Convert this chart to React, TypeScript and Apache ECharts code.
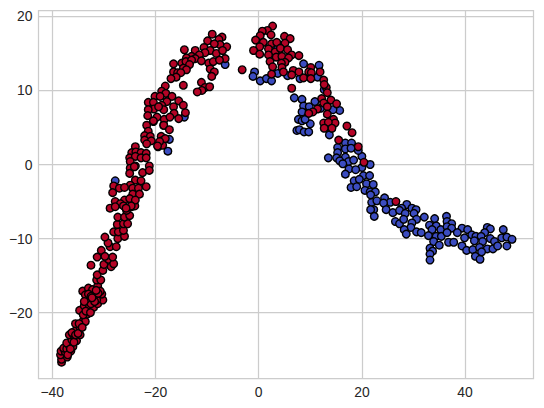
import React, { useEffect, useRef } from "react";
import * as echarts from "echarts";

const xTicks = [-40, -20, 0, 20, 40];
const yTicks = [-20, -10, 0, 10, 20];

const bluePoints: number[][] = [
  [-27.8,-2.2],[-14.4,6.4],[-6.5,13.5],[-17.3,3.4],[-17.6,1.8],
  [-0.8,12.5],[-1.1,11.9],[0.3,11.3],[1.5,11.6],[2.5,11.3],[3.7,12.3],[5.6,12],[8,11.6],[8.7,13.6],[11.7,13.4],[11.4,11.8],[6.9,9],[8.4,8.8],[12.7,10.1],[3.7,15.7],
  [8.7,7.9],[9.8,7.8],[10.9,8.5],[8.4,7.1],[15.7,7.3],[14.4,7.4],[12,7.6],[7.7,6.1],[8.4,5.9],[10,5.5],[9,6.1],[7.4,4.6],[7.9,4.7],[8.8,4.4],[9.7,4.4],[13.7,4],
  [16.8,2.9],[18,2.9],[15.3,2.3],[16.8,2.1],[15.3,1.6],[17.9,2.2],[13.5,0.9],[15.1,0.9],[16.8,1],[15.7,0.5],[17.4,0.4],[18.4,0.6],[16.3,0.1],[20,1.1],[19.3,1.9],[21.6,0],[20,-0.4],[17.5,-0.6],[18.8,-0.7],[16.8,-1.3],[20.3,-1.5],[21.5,-1.5],[18.5,-2.2],[19.5,-2],[17.9,-3.1],[19,-3],[20.9,-2.6],[22.2,-2.7],[20.6,-3.5],[21.6,-3.7],[22.6,-3.7],[21.9,-5.1],[22.9,-4.9],
  [21.7,-4.1],[24.4,-4.5],[25.5,-5.1],[24.2,-5.2],[28.7,-5.4],[27.7,-5.9],[29.7,-5.9],[30.5,-6.1],[22.3,-6.1],[21.7,-6.1],[24.7,-6.1],[26,-6.5],[27.3,-6.2],[28.4,-6.6],[30.1,-6.6],[22.4,-7],[32.1,-7.1],[30.6,-7.4],[34.1,-7.3],[36.4,-7],[26.5,-7.7],[27.3,-8],[28.1,-7.4],[29.7,-7.9],[36.5,-7.7],[33.1,-8.2],[34.4,-8.3],[37.4,-8],[29.5,-8.5],[28.2,-8.8],[30.6,-9.1],[31.5,-9.2],[28.6,-9.4],[33.6,-8.8],[35.3,-8.8],[36.5,-8.4],[37.4,-8.6],[39.4,-8.6],[40.5,-8.8],[44.3,-8.5],[44.9,-8.7],[47.4,-8.8],[43.8,-9.2],[32.9,-9.6],[34.4,-9.7],[35.4,-9.7],[36.5,-9.2],[38.5,-9.2],[39.9,-9.9],[41.3,-9.5],[42.1,-9.7],[43.1,-9.7],[44.9,-10],[47.1,-9.9],[48.1,-9.8],[49.1,-10.1],[33.9,-10.4],[35,-10.9],[36.8,-10.5],[37.8,-10.5],[41.8,-10.3],[43.4,-10.4],[45.7,-10.4],[39.4,-11],[40.3,-11.6],[41.5,-11.5],[42.8,-11.2],[44.3,-11.4],[45.4,-11.4],[46.3,-11],[48.1,-11],[33.2,-11.3],[33.7,-11.7],[33.2,-12.1],[33.2,-12.9],[42,-12.4],[42.9,-12.8],[43.2,-11.8],
];

const redPoints: number[][] = [
  [-38.2,-26.7],[-38.2,-26.3],[-38.4,-25.7],[-38.3,-25.2],[-37.1,-26],[-37.5,-25.3],[-37.8,-24.8],[-37.2,-24.9],[-36.4,-25.2],[-36,-24.6],[-36.7,-24.4],[-37.2,-24.1],[-36.2,-23.7],[-36.7,-23],[-35.9,-23],[-35.3,-23.8],[-34.6,-23],[-35.6,-22.5],[-36.2,-22.7],[-34.6,-22],[-35.5,-21.5],[-34.1,-21.2],[-33.6,-21.2],[-33.2,-20.2],[-34.7,-19.7],[-33.8,-19.1],[-34,-20.3],[-32.8,-19.1],[-32,-19.3],[-31.2,-18.8],[-30.2,-18.3],[-30.4,-17.5],[-31.4,-18.3],[-32.5,-18.8],[-34.1,-17.1],[-33.3,-18.1],[-33.6,-17.6],[-33,-16.7],[-32.2,-16.9],[-31.2,-16.4],[-30.7,-17.1],[-31.7,-17.6],[-31.1,-17.4],[-31.4,-15.6],[-30.6,-15.6],[-31.3,-14.9],[-30.2,-14.3],[-28.6,-13.8],[-30,-13.5],[-32.5,-13.6],[-29.1,-12.8],[-31.3,-12.5],[-30.5,-11.6],[-28.1,-13.4],[-28.3,-12.5],[-29.8,-12.4],[-28.8,-11.1],[-27.6,-11.1],[-29.2,-10.6],[-29.8,-9.8],[-27.3,-10],[-28.1,-9.1],[-27.2,-9.1],[-26,-9.7],[-26.2,-8.9],[-27.4,-8.1],[-26.2,-8],[-25.4,-8],[-27.3,-7.1],[-26,-7.1],[-25,-6.9],[-25.6,-6.2],[-24.6,-5.7],[-24,-5.6],
  [-37,-25.7],[-36.5,-24.9],[-35.8,-24],[-35.5,-23],[-35,-22.8],[-34.8,-21.5],[-34.2,-22],[-33.5,-19.8],[-32.6,-20],[-33,-17.5],[-32.5,-17.8],[-31.8,-18.5],[-31.5,-17],[-32.3,-18],[-33.8,-18.5],
  [-21.7,5.3],[-20.4,5.8],[-18.4,5.3],[-21.4,4.5],[-22.1,3.9],[-21,3.8],[-18.9,3.8],[-22.1,3.3],[-20.8,3.2],[-18.8,3.2],[-21.7,2.8],[-19.5,2.4],[-18.6,2.6],[-23.9,2.4],[-24.6,1.6],[-23.8,1.7],[-22.8,1.6],[-21.8,1.5],[-25,0.9],[-23.9,1.1],[-22.8,0.9],[-21.8,0.9],[-24.9,0.4],[-23.9,-0.2],[-24.9,-0.5],[-24.1,-0.3],[-25,-1.2],[-22.5,-1.1],[-21.2,-0.2],[-21.2,-0.8],[-23.9,-2.1],[-22.8,-2.2],[-28.1,-2.9],[-24.9,-2.8],[-27,-3.2],[-26,-3.1],[-24.4,-3.2],[-23.3,-3.2],[-21.8,-3],[-28.3,-3.8],[-24.4,-4],[-23.1,-4],[-26,-4.8],[-25,-4.6],[-27.8,-5],[-23.9,-4.8],[-26.8,-5.3],[-28.8,-5.9],[-27.8,-5.7],[-26.2,-5.6],[-24.7,-5.6],[-25.7,-5.9],
  [-9,17.6],[-7.1,17.2],[-9.9,16.7],[-7.7,16.9],[-6.2,15.9],[-7.5,16.2],[-8.6,16.3],[-10.6,15.8],[-9.4,15.4],[-8.2,15],[-7,15.4],[-10.4,15.1],[-6.5,14.3],[-9.7,13.7],[-8.8,13.9],[-7.6,14.1],[-9.4,12.9],[-8.6,12.5],[-9.1,11.9],[-14.4,15.5],[-12.3,15.4],[-13,14.6],[-14,14.4],[-11.5,14.8],[-12.3,14.3],[-11.1,14],[-16.5,13.6],[-14.9,13.7],[-14.1,13.9],[-13,14.1],[-13.4,13.5],[-14.6,13],[-16.5,12.5],[-14,12.8],[-15.7,12.4],[-15.1,12.4],[-16,11.8],[-17,11.6],[-14.6,10.7],[-11.1,11.1],[-10.4,10.4],[-9.5,10.5],[-11,10],[-11.9,9.8],[-18.1,10.6],[-18.8,9.9],[-18,9.6],[-20.1,9.2],[-19.1,9.2],[-21.4,8.4],[-20.4,8.4],[-16.8,9.2],[-15.5,8.6],[-17.8,8.5],[-18.8,8],[-20.3,7.5],[-21.4,7.4],[-14.6,8],[-16.5,7.8],[-18.4,7.4],[-19.4,7.8],[-14.2,7],[-16.4,6.9],[-21.5,6.6],[-19.7,6.4],[-18.3,6.1],[-17.2,6.4],[-15.5,6.2],[-20.4,5.9],[-18.4,5.3],[-17.3,4.7],[-18.1,3.5],[-19.2,3.1],[-19.6,2.5],[-3.2,12.8],
  [2.7,18.7],[1.7,18.1],[0.7,18],[2.4,17.5],[0.3,17.4],[-0.6,16.8],[0.9,16.5],[2.5,16.3],[3.5,16.5],[5,17.3],[6.1,17],[5.1,16.4],[0.2,15.9],[-1,15.4],[0.2,14.9],[1.9,15.6],[3.2,15.2],[4.2,15.7],[5.6,15.5],[6.4,14.8],[1.9,14.8],[3.4,14.5],[4.5,14.6],[5.8,14.4],[2.2,13.9],[5.1,13.8],[4.4,13.7],[7.8,14.7],[2.7,13.2],[4.5,13.1],[4.8,12.5],[10.1,13.1],[6.7,12.7],[7.8,12.5],[9.7,12.5],[10.2,12.4],[11.9,12.5],[2.5,12.2],[6.4,12.1],[8.7,11.7],[10.1,11.6],[12.6,11.4],[6.4,10.3],[13.1,10.4],[13.3,9.7],[12.7,10.8],
  [12.2,8.9],[14,8.7],[12.6,8.3],[13.3,7.8],[15.1,8.2],[11.4,7.5],[10.5,7.1],[9.7,6.9],[13.3,6.8],[14.5,6.1],[14.8,5.6],[12.6,5.6],[13.5,5.7],[14.2,4.9],[12.7,4.9],[17.1,5.2],[18.1,4.3],[15.5,3.3],[19.3,2.4],[20.4,0.3],[26.6,-5],
];

const RED = "#b40426";
const BLUE = "#3b4cc0";
const GRID = "#cccccc";
const TEXT = "#262626";

function axis(ticks: number[], min: number, max: number, margin: number) {
  return {
    type: "value",
    min,
    max,
    axisLine: { show: false },
    axisTick: { show: false, customValues: ticks },
    axisLabel: {
      customValues: ticks,
      color: TEXT,
      fontFamily: "Liberation Sans",
      fontSize: 13.9,
      margin,
      formatter: (v: number) => String(v).replace("-", "\u2212"),
    },
    splitLine: { show: true, lineStyle: { color: GRID, width: 1.25 } },
  };
}

function series(data: number[][], color: string) {
  return {
    type: "scatter",
    data,
    symbol: "circle",
    symbolSize: 7.6,
    itemStyle: { color, borderColor: "#000000", borderWidth: 1.4, opacity: 1 },
    emphasis: { disabled: true },
    silent: true,
  };
}

export default function App() {
  const ref = useRef<HTMLDivElement>(null);
  useEffect(() => {
    document.body.style.margin = "0";
    const chart = echarts.init(ref.current!, undefined, { renderer: "svg" });
    chart.setOption({
      animation: false,
      backgroundColor: "#ffffff",
      grid: {
        left: 38.5,
        top: 10.5,
        width: 495,
        height: 368,
        show: true,
        borderColor: GRID,
        borderWidth: 1.25,
        backgroundColor: "#ffffff",
      },
      xAxis: axis(xTicks, -42.67, 53.26, 6),
      yAxis: axis(yTicks, -28.9, 20.8, 6),
      series: [series(bluePoints, BLUE), series(redPoints, RED)],
    });
    return () => chart.dispose();
  }, []);
  return <div ref={ref} style={{ width: 544, height: 408 }} />;
}
